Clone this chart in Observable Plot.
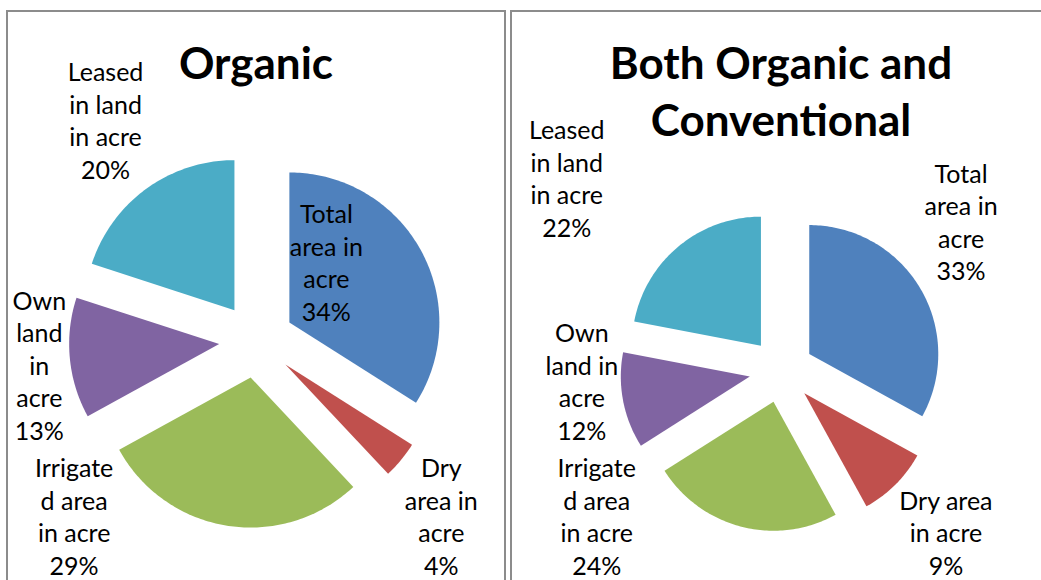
<!DOCTYPE html>
<html>
<head>
<meta charset="utf-8">
<script src="https://cdn.jsdelivr.net/npm/d3@7"></script>
<script src="https://cdn.jsdelivr.net/npm/@observablehq/plot@0.6"></script>
<style>
  html, body { margin: 0; padding: 0; background: #fff; }
  #page { position: relative; width: 1041px; height: 580px; overflow: hidden; font-family: Lato, "Open Sans", sans-serif; }
  .panel { position: absolute; top: 10px; height: 620px; border: 2px solid #8c8c8c; box-sizing: border-box; pointer-events: none; }
  .title { position: absolute; top: 34px; text-align: center; font-weight: bold; font-size: 44px; line-height: 57px; color: #000; white-space: pre-line; }
  .title span { display: inline-block; }
  .plot { position: absolute; top: 0; }
</style>
</head>
<body>
<div id="page"></div>
<script>
// ---- data ----
const categories = ["Total area in acre", "Dry area in acre", "Irrigated area in acre", "Own land in acre", "Leased in land in acre"];
const organicShare = [34, 4, 29, 13, 20];
const bothShare = [33, 9, 24, 12, 22];
const organicLabels = ["Total\narea in\nacre", "Dry\narea in\nacre", "Irrigate\nd area\nin acre", "Own\nland\nin\nacre", "Leased\nin land\nin acre"];
const bothLabels = ["Total\narea in\nacre", "Dry area\nin acre", "Irrigate\nd area\nin acre", "Own\nland in\nacre", "Leased\nin land\nin acre"];
const sliceColors = ["#4f81bd", "#c0504d", "#9bbb59", "#8064a2", "#4bacc6"];
const titles = ["Organic", "Both Organic and\nConventional"];

// ---- layout ----
const PAGE_W = 1041, PAGE_H = 580;
const EXPLODE = 0.25;      // slice explosion, fraction of radius
const FONT_PX = 25, LINE_PX = 32.5, GAP = 5, PAD = 4;
const FONT_FAMILY = "Lato, 'Open Sans', sans-serif";
const panels = [
  {shares: organicShare, labels: organicLabels, title: titles[0], left: 6, width: 500, plotLeft: 0, plotWidth: 508, cx: 256, cy: 340, r: 150},
  {shares: bothShare, labels: bothLabels, title: titles[1], left: 510, width: 542, plotLeft: 508, plotWidth: 533, cx: 781, cy: 370, r: 129}
];

const page = document.getElementById("page");
const ctx = document.createElement("canvas").getContext("2d");
ctx.font = `${FONT_PX}px ${FONT_FAMILY}`;

function slicesOf(shares) {
  const total = d3.sum(shares);
  let acc = 0;
  return shares.map((v, i) => {
    const a0 = acc / total * 2 * Math.PI; acc += v;
    const a1 = acc / total * 2 * Math.PI;
    return {category: categories[i], value: v, pct: Math.round(v / total * 100), a0, a1, am: (a0 + a1) / 2};
  });
}

// slice outlines in radius units (y up), exploded along bisector
function slicePoints(slices) {
  const pts = [];
  for (const s of slices) {
    const ox = EXPLODE * Math.sin(s.am), oy = EXPLODE * Math.cos(s.am);
    pts.push({category: s.category, x: ox, y: oy});
    const n = Math.max(2, Math.ceil((s.a1 - s.a0) / (Math.PI / 180)));
    for (let k = 0; k <= n; k++) {
      const a = s.a0 + (s.a1 - s.a0) * k / n;
      pts.push({category: s.category, x: ox + Math.sin(a), y: oy + Math.cos(a)});
    }
    pts.push({category: s.category, x: ox, y: oy});
  }
  return pts;
}

// sector geometry in page pixels (used only for label layout)
function sectorGeoms(slices, p) {
  const e = EXPLODE * p.r;
  return slices.map(s => {
    const tx = p.cx + e * Math.sin(s.am), ty = p.cy - e * Math.cos(s.am);
    const pts = [];
    const n = Math.max(4, Math.ceil((s.a1 - s.a0) / (Math.PI / 360)));
    for (let k = 0; k <= n; k++) {
      const a = s.a0 + (s.a1 - s.a0) * k / n;
      pts.push([tx + p.r * Math.sin(a), ty - p.r * Math.cos(a)]);
    }
    for (let t = 0; t <= p.r; t += 2) {
      pts.push([tx + t * Math.sin(s.a0), ty - t * Math.cos(s.a0)]);
      pts.push([tx + t * Math.sin(s.a1), ty - t * Math.cos(s.a1)]);
    }
    return {s, tx, ty, pts};
  });
}
function inSector(g, x, y, r) {
  const dx = x - g.tx, dy = y - g.ty;
  if (Math.hypot(dx, dy) > r) return false;
  if (Math.hypot(dx, dy) < 1e-6) return true;
  let a = Math.atan2(dx, -dy); if (a < 0) a += 2 * Math.PI;
  return a >= g.s.a0 - 1e-9 && a <= g.s.a1 + 1e-9;
}

// Excel-like "best fit" label placement (computed in pixels, returned in radius units)
function placeLabels(slices, labels, p, titleRect) {
  const R = (1 + EXPLODE) * p.r;
  const geoms = sectorGeoms(slices, p);
  const x0 = p.left + 2 + PAD, x1 = Math.min(p.left + p.width - 2, PAGE_W) - PAD;
  const y0 = 12 + PAD, y1 = PAGE_H;
  const items = slices.map((s, i) => {
    const text = labels[i] + "\n" + s.pct + "%";
    const lines = text.split("\n");
    const w = d3.max(lines, l => ctx.measureText(l).width);
    const h = lines.length * LINE_PX;
    const hFit = (lines.length - 1) * LINE_PX + FONT_PX;
    return {s, g: geoms[i], text, w, h, hFit};
  });
  const hitsPie = (it, x, y) => geoms.some(g => g.pts.some(([px, py]) =>
    px > x - it.w / 2 - GAP && px < x + it.w / 2 + GAP && py > y - it.h / 2 - GAP && py < y + it.h / 2 + GAP));
  const hitsTitle = (it, x, y) => x + it.w / 2 > titleRect.left - GAP && x - it.w / 2 < titleRect.right + GAP &&
    y + it.h / 2 > titleRect.top - GAP && y - it.h / 2 < titleRect.bottom + GAP;
  const clampX = (it, v) => Math.max(x0 + it.w / 2, Math.min(x1 - it.w / 2, v));
  const clampY = (it, v) => Math.max(y0 + it.h / 2, Math.min(y1 - it.h / 2, v));
  const soft = c => Math.max(-1, Math.min(1, c / 0.5));

  // does the label box fit inside its own slice? if so, take the fitting spot nearest the slice tip
  function insideSpot(it) {
    const g = it.g;
    const probe = [];
    for (let k = 0; k <= 8; k++) { const fx = -it.w / 2 + it.w * k / 8; probe.push([fx, -it.hFit / 2], [fx, it.hFit / 2]); }
    for (let k = 0; k <= 10; k++) { const fy = -it.hFit / 2 + it.hFit * k / 10; probe.push([-it.w / 2, fy], [it.w / 2, fy]); }
    let best = null, bestD = Infinity;
    for (let bx = g.tx - p.r; bx <= g.tx + p.r; bx += 1) {
      for (let by = g.ty - p.r; by <= g.ty + p.r; by += 1) {
        const d = Math.hypot(bx - g.tx, by - g.ty);
        if (d >= bestD) continue;
        if (probe.every(([fx, fy]) => inSector(g, bx + fx, by + fy, p.r))) { best = [bx, by]; bestD = d; }
      }
    }
    return best;
  }

  for (const it of items) {
    const spot = insideSpot(it);
    if (spot) { it.px = spot[0]; it.py = spot[1]; it.inside = true; continue; }
    const ux = Math.sin(it.s.am), uy = -Math.cos(it.s.am);
    const px = p.cx + ux * (R + GAP), py = p.cy + uy * (R + GAP);
    const rx = px + soft(ux) * it.w / 2, ry = py + soft(uy) * it.h / 2;
    let x = clampX(it, rx), y = clampY(it, ry);
    // a label pushed back hard by the chart edge slides sideways to clear the pie
    if (Math.hypot(x - rx, y - ry) > 20) {
      const sgn = ux < 0 ? -1 : 1;
      for (let k = 0; k < 600 && hitsPie(it, x, y); k++) {
        const nx = clampX(it, x + sgn);
        if (nx === x) break;
        x = nx;
      }
    }
    if (hitsTitle(it, x, y)) {
      const ts = x < (titleRect.left + titleRect.right) / 2 ? -1 : 1;
      for (let k = 0; k < 600 && hitsTitle(it, x, y); k++) {
        const nx = clampX(it, x + ts);
        if (nx === x) break;
        x = nx;
      }
    }
    it.px = x; it.py = y; it.inside = false;
  }
  // resolve label-label overlaps by pushing the upper label up
  for (let iter = 0; iter < 10; iter++) {
    let moved = false;
    for (const a of items) for (const b of items) {
      if (a === b || a.inside || b.inside) continue;
      const ox = Math.min(a.px + a.w / 2, b.px + b.w / 2) - Math.max(a.px - a.w / 2, b.px - b.w / 2);
      const oy = Math.min(a.py + a.h / 2, b.py + b.h / 2) - Math.max(a.py - a.h / 2, b.py - b.h / 2);
      if (ox > 0 && oy > 0 && a.py < b.py) { a.py -= oy + GAP; moved = true; }
    }
    if (!moved) break;
  }
  return items.map(it => ({text: it.text, x: (it.px - p.cx) / p.r, y: (p.cy - it.py) / p.r}));
}

for (const p of panels) {
  const panel = document.createElement("div");
  panel.className = "panel";
  panel.style.left = p.left + "px";
  panel.style.width = p.width + "px";

  const title = document.createElement("div");
  title.className = "title";
  title.style.left = p.left + "px";
  title.style.width = p.width + "px";
  const span = document.createElement("span");
  span.textContent = p.title;
  title.appendChild(span);
  page.appendChild(title);
  const titleRect = span.getBoundingClientRect();

  const slices = slicesOf(p.shares);
  const labelData = placeLabels(slices, p.labels, p, titleRect);

  const chart = Plot.plot({
    width: p.plotWidth,
    height: PAGE_H,
    margin: 0,
    x: {domain: [(p.plotLeft - p.cx) / p.r, (p.plotLeft + p.plotWidth - p.cx) / p.r], axis: null},
    y: {domain: [(p.cy - PAGE_H) / p.r, p.cy / p.r], axis: null},
    color: {domain: categories, range: sliceColors},
    style: {background: "transparent", fontFamily: FONT_FAMILY, color: "#000", overflow: "visible"},
    marks: [
      Plot.line(slicePoints(slices), {x: "x", y: "y", z: "category", fill: "category", stroke: "none", curve: "linear"}),
      Plot.text(labelData, {x: "x", y: "y", text: "text", fontSize: FONT_PX, lineHeight: LINE_PX / FONT_PX, textAnchor: "middle", lineAnchor: "middle", fill: "#000"})
    ]
  });
  chart.classList.add("plot");
  chart.style.left = p.plotLeft + "px";
  page.insertBefore(chart, title);
  page.appendChild(panel);
}
</script>
</body>
</html>
